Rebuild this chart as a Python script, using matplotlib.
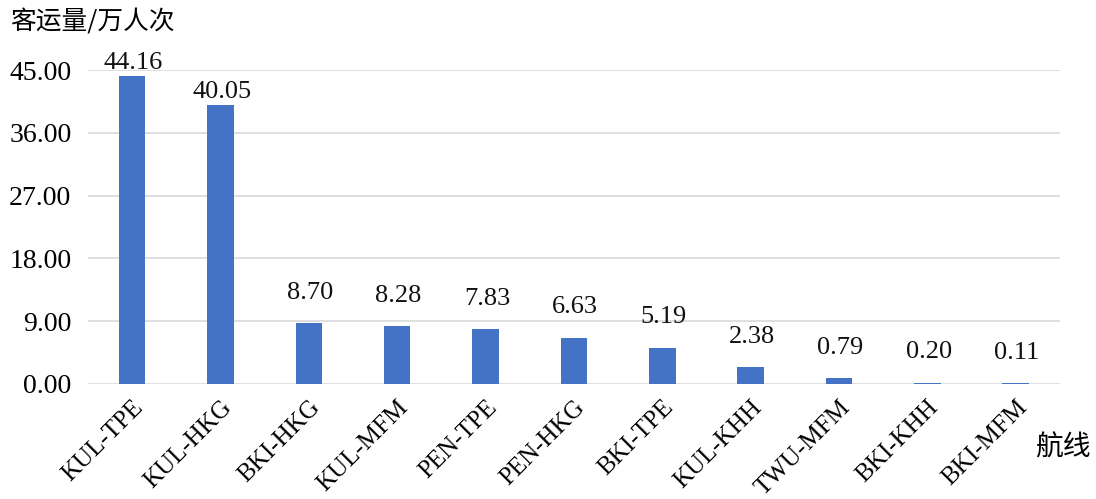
import matplotlib
matplotlib.use('Agg')
import matplotlib.pyplot as plt
import numpy as np

plt.rcParams['font.family'] = ['Liberation Serif', 'Noto Sans CJK SC']

routes = ['KUL-TPE', 'KUL-HKG', 'BKI-HKG', 'KUL-MFM', 'PEN-TPE', 'PEN-HKG',
          'BKI-TPE', 'KUL-KHH', 'TWU-MFM', 'BKI-KHH', 'BKI-MFM']
passengers = [44.16, 40.05, 8.70, 8.28, 7.83, 6.63, 5.19, 2.38, 0.79, 0.20, 0.11]
yticks = [0, 9, 18, 27, 36, 45]

fig = plt.figure(figsize=(10.96, 4.99), dpi=100)
ax = fig.add_axes([0.0803, 0.2305, 0.8867, 0.6292])

x = np.arange(len(routes))
ax.bar(x, passengers, width=0.3, color='#4472C4', zorder=3)

for i, v in enumerate(passengers):
    off = 9 if v > 30 else 22
    ax.annotate(format(v, '.2f'), (i, v), xytext=(1, off), textcoords='offset points',
                ha='center', va='center', fontsize=19, color='#111111')

ax.set_xlim(-0.5, len(routes) - 0.5)
ax.set_ylim(0, 45)
ax.set_yticks(yticks)
ax.set_yticklabels([format(t, '.2f') for t in yticks], fontsize=20)
ax.set_xticks(x)
ax.set_xticklabels(routes, rotation=45, ha='right', rotation_mode='anchor', fontsize=18)
ax.tick_params(axis='both', length=0, pad=9)
ax.tick_params(axis='y', pad=12)
ax.grid(axis='y', color='#d9d9d9', linewidth=1.2, zorder=0)
for s in ax.spines.values():
    s.set_visible(False)

fig.text(0.009, 0.955, '客运量/万人次', fontsize=18.5, family=['Noto Sans CJK SC'], va='center')
fig.text(0.944, 0.103, '航线', fontsize=20, family=['Noto Sans CJK SC'], va='center')

fig.savefig('out.png', dpi=100)
